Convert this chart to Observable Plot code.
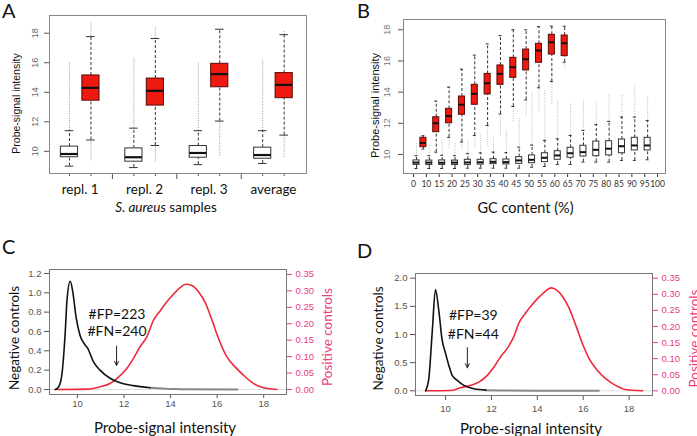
<!DOCTYPE html>
<html><head><meta charset="utf-8">
<script src="https://cdn.jsdelivr.net/npm/d3@7"></script>
<script src="https://cdn.jsdelivr.net/npm/@observablehq/plot@0.6"></script>
<style>
body{margin:0;background:#fff;}
#root{position:relative;width:697px;height:436px;overflow:hidden;background:#fff;}
#root > svg{position:absolute;}
</style></head><body><div id="root"></div>
<script>
// ---------------- Panel A data ----------------
const aSamples=["repl. 1","repl. 2","repl. 3","average"];
const aNegLo=[9.0,8.9,9.1,9.18];
const aNegQ1=[9.6,9.3,9.57,9.5];
const aNegMed=[9.82,9.6,9.89,9.75];
const aNegQ3=[10.32,10.2,10.36,10.25];
const aNegHi=[11.4,11.57,11.4,11.4];
const aNegOutMax=[16.07,16.4,16.05,16.15];
const aPosLo=[10.77,10.4,12.05,11.1];
const aPosQ1=[13.43,13.1,14.34,13.6];
const aPosMed=[14.3,14.1,15.23,14.5];
const aPosQ3=[15.14,14.93,15.93,15.3];
const aPosHi=[17.77,17.64,18.27,17.9];
const aPosOutMax=[18.73,18.34,18.27,18.2];
const aPosOutMin=[9.36,9.27,9.7,9.6];
const aYTicks=[10,12,14,16,18];
const aYTitle="Probe-signal intensity";
const aXTitleItalic="S. aureus";
const aXTitleRest=" samples";

// ---------------- Panel B data ----------------
const gcLabels=["0","10","15","20","25","30","35","40","45","50","55","60","65","70","75","80","85","90","95","100"];
const bNegLo=[9.1,9.1,9.1,9.1,9.12,9.12,9.12,9.12,9.12,9.18,9.23,9.36,9.36,9.51,9.51,9.51,9.62,9.62,9.66];
const bNegQ1=[9.33,9.33,9.33,9.33,9.33,9.35,9.38,9.36,9.4,9.44,9.51,9.66,9.79,9.87,9.89,9.94,10.08,10.26,10.26];
const bNegMed=[9.48,9.48,9.47,9.48,9.49,9.5,9.53,9.51,9.62,9.66,9.79,9.94,10.08,10.15,10.3,10.37,10.53,10.58,10.58];
const bNegQ3=[9.62,9.61,9.62,9.61,9.66,9.66,9.7,9.68,9.83,9.94,10.08,10.21,10.43,10.56,10.83,10.85,10.96,11.07,11.07];
const bNegHi=[9.92,9.92,9.95,9.92,10.05,10.1,10.15,10.12,10.47,10.6,10.9,11.0,11.22,11.54,11.92,12.12,12.4,12.4,12.18];
const bNegOutMax=[10.7,10.6,10.9,10.7,10.9,11.3,11.2,11.5,12.3,14.0,14.1,13.5,13.3,13.5,13.3,13.8,13.8,14.5,13.7];
const bPosLo=[10.35,10.15,11.1,10.8,11.22,11.86,12.6,13.08,13.5,14.28,14.68,15.92];
const bPosQ1=[10.47,11.43,12.0,12.55,13.19,13.85,14.47,14.92,15.39,15.88,16.41,16.31];
const bPosMed=[10.74,12.0,12.46,13.19,13.89,14.57,15.17,15.6,16.11,16.67,17.2,17.14];
const bPosQ3=[11.07,12.39,12.93,13.72,14.47,15.17,15.71,16.2,16.73,17.1,17.68,17.63];
const bPosHi=[11.2,13.42,14.32,15.47,16.37,17.1,17.63,18.0,18.0,18.2,18.23,18.23];
const bPosOutMin=[10.3,10.0,10.4,10.3,10.4,10.6,11.2,12.1,12.5,12.8,13.2,15.5];
const bYTicks=[10,12,14,16,18];
const bXTitle="GC content (%)";

// ---------------- Panel C data ----------------
const cNegX=[9.05,9.2,9.34,9.48,9.55,9.69,9.8,9.94,10.11,10.33,10.43,10.69,10.97,11.4,11.83,12.4,13.12];
const cNegY=[0,0.03,0.17,0.61,0.92,1.12,1.01,0.75,0.56,0.46,0.43,0.285,0.2,0.116,0.07,0.04,0.018];
const cTailX=[13.12,13.84,14.5,16.88];
const cTailY=[0.018,0.007,0.003,0.001];
const cPosX=[9.05,10.49,10.97,11.4,11.69,12.12,12.4,12.69,12.98,13.27,13.55,13.84,14.13,14.41,14.65,14.92,15.2,15.49,15.78,16.06,16.42,16.78,17.14,17.57,18.0,18.57];
const cPosY=[0,0.001,0.008,0.018,0.033,0.064,0.094,0.13,0.16,0.211,0.239,0.267,0.29,0.31,0.32,0.316,0.297,0.264,0.211,0.155,0.099,0.068,0.043,0.018,0.005,0];
const cFP="#FP=223", cFN="#FN=240";
const cThreshold=11.68;

// ---------------- Panel D data ----------------
const dNegX=[9.13,9.27,9.42,9.56,9.71,9.85,10.0,10.14,10.29,10.51,10.8,11.24,11.75];
const dNegY=[0,0.216,1.05,1.80,1.41,0.905,0.665,0.455,0.275,0.186,0.096,0.036,0.012];
const dTailX=[11.75,12.5,14.0,16.68];
const dTailY=[0.012,0.004,0.002,0.001];
const dPosX=[9.13,10.22,10.65,11.09,11.45,11.82,12.11,12.4,12.69,12.98,13.2,13.49,13.78,14.07,14.36,14.6,14.8,15.09,15.38,15.67,15.96,16.25,16.61,16.98,17.41,17.85,18.58];
const dPosY=[0,0.001,0.0095,0.017,0.027,0.048,0.074,0.106,0.132,0.169,0.211,0.242,0.268,0.291,0.31,0.32,0.315,0.294,0.258,0.205,0.148,0.101,0.064,0.038,0.017,0.004,0];
const dFP="#FP=39", dFN="#FN=44";
const dThreshold=10.95;

const xIntensityTicks=[10,12,14,16,18];
const posTicks=[0,0.05,0.10,0.15,0.20,0.25,0.30,0.35];
const cNegTicks=[0,0.2,0.4,0.6,0.8,1.0,1.2];
const dNegTicks=[0,0.5,1.0,1.5,2.0];
const negTitle="Negative controls", posTitle="Positive controls", intTitle="Probe-signal intensity";
const panelLetters=["A","B","C","D"];

// ---------------- helpers ----------------
const root=document.getElementById("root");
const SANS='"Liberation Sans", Arial, sans-serif';
const HUM='Lato, "Open Sans", sans-serif';
const RED="#ee1a12", PINK="#e8407a", CURVE="#f0283c";
function place(svg,left,top){svg.style.left=left+"px";svg.style.top=top+"px";root.appendChild(svg);}
const baseStyle={fontFamily:SANS,fontSize:"9px",background:"transparent",overflow:"visible",color:"#444"};
const mid={textAnchor:"middle",lineAnchor:"middle"};

function boxMarks(rows,{w,fill,stroke,outColor,medW}){
  const x1=d=>d.p-w/2,x2=d=>d.p+w/2,c1=d=>d.p-w/4,c2=d=>d.p+w/4;
  return [
    Plot.ruleX(rows.filter(d=>d.outMax>d.hi),{x:"p",y1:"hi",y2:"outMax",stroke:outColor,strokeDasharray:"1,1.3"}),
    Plot.ruleX(rows.filter(d=>d.outMin<d.lo),{x:"p",y1:"outMin",y2:"lo",stroke:outColor,strokeDasharray:"1,1.3"}),
    Plot.ruleX(rows,{x:"p",y1:"q3",y2:"hi",stroke:"#333",strokeDasharray:"3,2"}),
    Plot.ruleX(rows,{x:"p",y1:"lo",y2:"q1",stroke:"#333",strokeDasharray:"3,2"}),
    Plot.ruleY(rows,{y:"hi",x1:c1,x2:c2,stroke:"#333"}),
    Plot.ruleY(rows,{y:"lo",x1:c1,x2:c2,stroke:"#333"}),
    Plot.rect(rows,{x1,x2,y1:"q1",y2:"q3",fill,stroke}),
    Plot.ruleY(rows,{y:"med",x1,x2,stroke:"#111",strokeWidth:medW})
  ];
}

// ---------------- Panel A ----------------
const aNeg=aSamples.map((s,i)=>({p:3*i+1,lo:aNegLo[i],q1:aNegQ1[i],med:aNegMed[i],q3:aNegQ3[i],hi:aNegHi[i],outMax:aNegOutMax[i],outMin:aNegLo[i]}));
const aPos=aSamples.map((s,i)=>({p:3*i+2,lo:aPosLo[i],q1:aPosQ1[i],med:aPosMed[i],q3:aPosQ3[i],hi:aPosHi[i],outMax:aPosOutMax[i],outMin:aPosOutMin[i]}));
const aGroups=aSamples.map((s,i)=>({s,p:3*i+1.5}));
const plotA=Plot.plot({
  width:320,height:220,marginLeft:49,marginRight:14,marginTop:15,marginBottom:47,
  x:{domain:[0.07,12.04]},y:{domain:[8.5,19.2]},style:baseStyle,
  marks:[
    Plot.axisY(aYTicks,{tickSize:5,tickFormat:()=>"",label:null,color:"#555"}),
    Plot.text(aYTicks,{y:d=>d,text:d=>String(d),frameAnchor:"left",dx:-14,rotate:-90,fill:"#666",fontSize:9,...mid}),
    Plot.axisX(aNeg.map(d=>d.p).concat(aPos.map(d=>d.p)),{tickSize:3,tickFormat:()=>"",label:null,color:"#555"}),
    Plot.axisX([3,6,9],{tickSize:6,tickFormat:()=>"",label:null,color:"#555"}),
    ...boxMarks(aNeg,{w:0.8,fill:"white",stroke:"#333",outColor:"#999",medW:2.2}),
    ...boxMarks(aPos,{w:0.8,fill:RED,stroke:"#5a0a05",outColor:"#999",medW:2.2}),
    Plot.frame({stroke:"#888"}),
    Plot.text(aGroups,{x:"p",text:"s",frameAnchor:"bottom",dy:16,fontSize:13.5,fontFamily:HUM,fill:"#111",...mid}),
    Plot.text([aYTitle],{text:d=>d,frameAnchor:"left",dx:-33,dy:9,rotate:-90,fontSize:10.5,fill:"#111",...mid}),
    Plot.text([aXTitleItalic+aXTitleRest],{text:d=>d,frameAnchor:"bottom",dx:-12,dy:34,fontSize:13.5,fontFamily:HUM,fill:"#111",className:"atitle",...mid})
  ]
});
{
  const t=d3.select(plotA).select("g.atitle text");
  t.text(null);
  t.append("tspan").attr("font-style","italic").text(aXTitleItalic);
  t.append("tspan").text(aXTitleRest);
}
place(plotA,0,0);

// ---------------- Panel B ----------------
const bNeg=bNegMed.map((m,i)=>({p:i+0.23,lo:bNegLo[i],q1:bNegQ1[i],med:m,q3:bNegQ3[i],hi:bNegHi[i],outMax:bNegOutMax[i],outMin:bNegLo[i]}));
const bPos=bPosMed.map((m,i)=>({p:i+1-0.23,lo:bPosLo[i],q1:bPosQ1[i],med:m,q3:bPosQ3[i],hi:bPosHi[i],outMax:bPosHi[i],outMin:bPosOutMin[i]}));
const plotB=Plot.plot({
  width:347,height:220,marginLeft:53,marginRight:32,marginTop:19,marginBottom:47,
  x:{domain:[-0.78,19.62]},y:{domain:[8.78,18.66]},style:baseStyle,
  marks:[
    Plot.axisY(bYTicks,{tickSize:5,tickFormat:()=>"",label:null,color:"#555"}),
    Plot.text(bYTicks,{y:d=>d,text:d=>String(d),frameAnchor:"left",dx:-16,rotate:-90,fill:"#777",fontSize:9,...mid}),
    Plot.axisX(d3.range(gcLabels.length),{tickSize:4,tickPadding:3,tickFormat:i=>gcLabels[i],label:null,color:"#333",fontSize:8.5,fontFamily:HUM}),
    ...boxMarks(bNeg,{w:0.47,fill:"white",stroke:"#333",outColor:"#bbb",medW:2}),
    ...boxMarks(bPos,{w:0.47,fill:RED,stroke:"#5a0a05",outColor:"#bbb",medW:2}),
    Plot.frame({stroke:"#888"}),
    Plot.text([aYTitle],{text:d=>d,frameAnchor:"left",dx:-28,dy:9,rotate:-90,fontSize:11,fill:"#111",...mid}),
    Plot.text([bXTitle],{text:d=>d,frameAnchor:"bottom",dx:-9,dy:35,fontSize:14.5,fontFamily:HUM,fill:"#111",...mid})
  ]
});
place(plotB,350,0);

// ---------------- Panels C & D ----------------
function densityPanel({negX,negY,tailX,tailY,posX,posY,k,negTicks,negFmt,xDomain,yDomain,m,fp,fn,thr,labelX,fpY,fnY,arrowTop,arrowBot,xTick,xLabelPad,titles}){
  const neg=negX.map((x,i)=>({x,y:negY[i]}));
  const tail=tailX.map((x,i)=>({x,y:tailY[i]}));
  const pos=posX.map((x,i)=>({x,y:posY[i]*k}));
  return Plot.plot({
    width:m.w,height:216,marginLeft:m.l,marginRight:m.r,marginTop:m.t,marginBottom:m.b,
    x:{domain:xDomain},y:{domain:yDomain},style:baseStyle,
    marks:[
      Plot.ruleY([0],{stroke:"#ddd"}),
      Plot.axisY(negTicks,{tickSize:5,tickPadding:3,tickFormat:negFmt,label:null,color:"#555",fontSize:9.5}),
      Plot.axisY(posTicks.map(v=>v*k),{anchor:"right",tickSize:5,tickPadding:4,tickFormat:d=>(d/k).toFixed(2),label:null,color:PINK,fontSize:9.5}),
      Plot.axisX(xIntensityTicks,{tickSize:xTick,tickPadding:xLabelPad,label:null,color:"#555",fontSize:9.5}),
      Plot.line(tail,{x:"x",y:"y",stroke:"#888",strokeWidth:2}),
      Plot.line(pos,{x:"x",y:"y",stroke:CURVE,strokeWidth:1.6,curve:"monotone-x"}),
      Plot.line(neg,{x:"x",y:"y",stroke:"#111",strokeWidth:1.6,curve:"monotone-x"}),
      Plot.arrow([thr],{x1:d=>d,x2:d=>d,y1:()=>arrowTop,y2:()=>arrowBot,stroke:"#222",strokeWidth:1,headLength:7,headAngle:50}),
      Plot.text([fp],{x:()=>labelX,y:()=>fpY,text:d=>d,fontSize:14,fontFamily:HUM,fill:"#111",...mid}),
      Plot.text([fn],{x:()=>labelX,y:()=>fnY,text:d=>d,fontSize:14,fontFamily:HUM,fill:"#111",...mid}),
      Plot.frame({stroke:"#777"}),
      Plot.text([negTitle],{text:d=>d,frameAnchor:"left",dx:titles.ldx,dy:titles.ldy,rotate:-90,fontSize:13.5,fontFamily:HUM,fill:"#111",...mid}),
      Plot.text([posTitle],{text:d=>d,frameAnchor:"right",dx:titles.rdx,dy:titles.rdy,rotate:-90,fontSize:13.5,fontFamily:HUM,fill:PINK,...mid}),
      Plot.text([intTitle],{text:d=>d,frameAnchor:"bottom",dx:titles.bdx,dy:titles.bdy,fontSize:15,fontFamily:HUM,fill:"#111",...mid})
    ]
  });
}
const plotC=densityPanel({negX:cNegX,negY:cNegY,tailX:cTailX,tailY:cTailY,posX:cPosX,posY:cPosY,k:3.40,
  negTicks:cNegTicks,negFmt:d=>d.toFixed(1),xDomain:[8.8,18.98],yDomain:[-0.052,1.241],
  m:{w:350,l:49,r:64,t:49,b:42},fp:cFP,fn:cFN,thr:cThreshold,labelX:11.70,fpY:0.776,fnY:0.596,arrowTop:0.448,arrowBot:0.248,xTick:4,xLabelPad:2,
  titles:{ldx:-35,ldy:6,rdx:41,rdy:5,bdx:-3,bdy:34}});
place(plotC,0,220);
const plotD=densityPanel({negX:dNegX,negY:dNegY,tailX:dTailX,tailY:dTailY,posX:dPosX,posY:dPosY,k:5.714,
  negTicks:dNegTicks,negFmt:d=>d.toFixed(1),xDomain:[8.69,19.02],yDomain:[-0.083,2.083],
  m:{w:347,l:65,r:45,t:53,b:41},fp:dFP,fn:dFN,thr:dThreshold,labelX:11.21,fpY:1.336,fnY:1.006,arrowTop:0.767,arrowBot:0.408,xTick:5,xLabelPad:5,
  titles:{ldx:-37,ldy:4,rdx:42,rdy:4,bdx:-3,bdy:34}});
place(plotD,350,220);

// ---------------- panel letters ----------------
const ov=d3.create("svg").attr("width",697).attr("height",436).style("left","0px").style("top","0px").style("pointer-events","none");
const letterPos=[[2,18],[357,18],[2,253.5],[357,258]];
panelLetters.forEach((L,i)=>ov.append("text").attr("x",letterPos[i][0]).attr("y",letterPos[i][1]).attr("font-family",HUM).attr("font-size",20).attr("fill","#111").text(L));
root.appendChild(ov.node());
</script></body></html>
